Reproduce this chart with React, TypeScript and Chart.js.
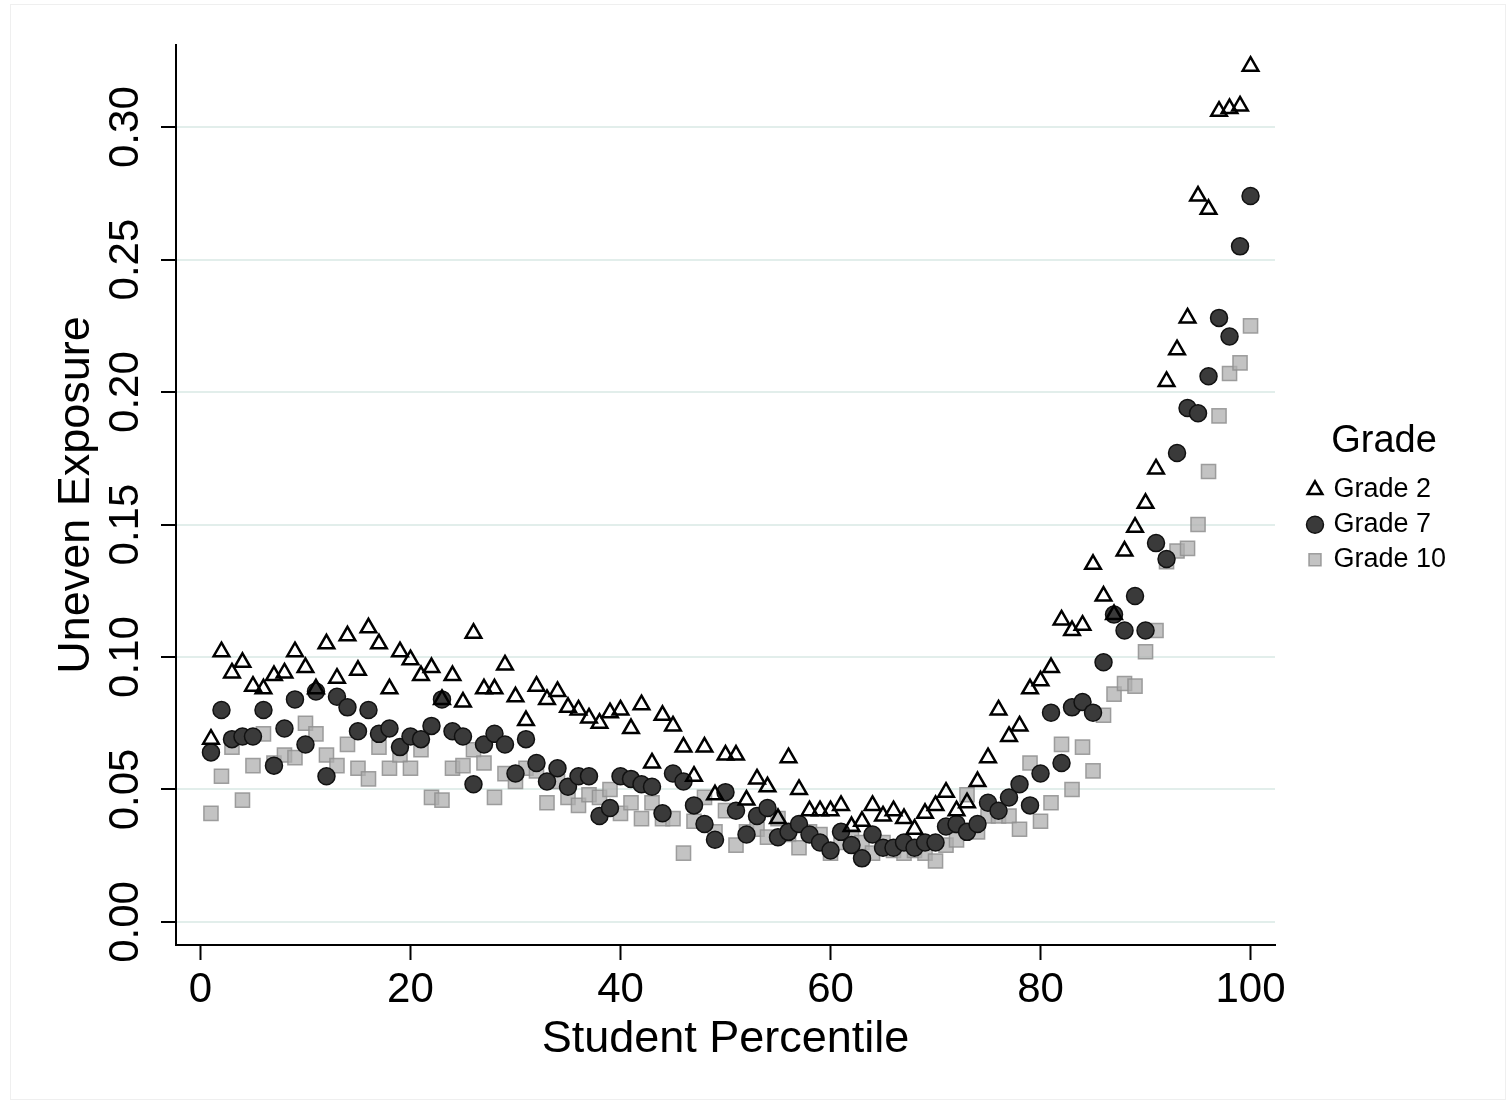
import { useEffect, useRef } from 'react';
import { Chart, registerables } from 'chart.js';

Chart.register(...registerables);

const PERCENTILES = [
  1, 2, 3, 4, 5, 6, 7, 8, 9, 10, 11, 12, 13, 14, 15, 16, 17, 18, 19, 20,
  21, 22, 23, 24, 25, 26, 27, 28, 29, 30, 31, 32, 33, 34, 35, 36, 37, 38, 39, 40,
  41, 42, 43, 44, 45, 46, 47, 48, 49, 50, 51, 52, 53, 54, 55, 56, 57, 58, 59, 60,
  61, 62, 63, 64, 65, 66, 67, 68, 69, 70, 71, 72, 73, 74, 75, 76, 77, 78, 79, 80,
  81, 82, 83, 84, 85, 86, 87, 88, 89, 90, 91, 92, 93, 94, 95, 96, 97, 98, 99, 100,
];

const GRADE2 = [
  0.069, 0.102, 0.094, 0.098, 0.089, 0.088, 0.093, 0.094, 0.102, 0.096,
  0.088, 0.105, 0.092, 0.108, 0.095, 0.111, 0.105, 0.088, 0.102, 0.099,
  0.093, 0.096, 0.084, 0.093, 0.083, 0.109, 0.088, 0.088, 0.097, 0.085,
  0.076, 0.089, 0.084, 0.087, 0.081, 0.080, 0.077, 0.075, 0.079, 0.080,
  0.073, 0.082, 0.060, 0.078, 0.074, 0.066, 0.055, 0.066, 0.048, 0.063,
  0.063, 0.046, 0.054, 0.051, 0.039, 0.062, 0.050, 0.042, 0.042, 0.042,
  0.044, 0.036, 0.038, 0.044, 0.040, 0.042, 0.039, 0.035, 0.041, 0.044,
  0.049, 0.042, 0.045, 0.053, 0.062, 0.080, 0.070, 0.074, 0.088, 0.091,
  0.096, 0.114, 0.110, 0.112, 0.135, 0.123, 0.116, 0.140, 0.149, 0.158,
  0.171, 0.204, 0.216, 0.228, 0.274, 0.269, 0.306, 0.307, 0.308, 0.323,
];

const GRADE7 = [
  0.064, 0.080, 0.069, 0.070, 0.070, 0.080, 0.059, 0.073, 0.084, 0.067,
  0.087, 0.055, 0.085, 0.081, 0.072, 0.080, 0.071, 0.073, 0.066, 0.070,
  0.069, 0.074, 0.084, 0.072, 0.070, 0.052, 0.067, 0.071, 0.067, 0.056,
  0.069, 0.060, 0.053, 0.058, 0.051, 0.055, 0.055, 0.040, 0.043, 0.055,
  0.054, 0.052, 0.051, 0.041, 0.056, 0.053, 0.044, 0.037, 0.031, 0.049,
  0.042, 0.033, 0.040, 0.043, 0.032, 0.034, 0.037, 0.033, 0.030, 0.027,
  0.034, 0.029, 0.024, 0.033, 0.028, 0.028, 0.030, 0.028, 0.030, 0.030,
  0.036, 0.037, 0.034, 0.037, 0.045, 0.042, 0.047, 0.052, 0.044, 0.056,
  0.079, 0.060, 0.081, 0.083, 0.079, 0.098, 0.116, 0.110, 0.123, 0.110,
  0.143, 0.137, 0.177, 0.194, 0.192, 0.206, 0.228, 0.221, 0.255, 0.274,
];

const GRADE10 = [
  0.041, 0.055, 0.066, 0.046, 0.059, 0.071, 0.060, 0.063, 0.062, 0.075,
  0.071, 0.063, 0.059, 0.067, 0.058, 0.054, 0.066, 0.058, 0.063, 0.058,
  0.065, 0.047, 0.046, 0.058, 0.059, 0.065, 0.060, 0.047, 0.056, 0.053,
  0.058, 0.057, 0.045, 0.053, 0.047, 0.044, 0.048, 0.047, 0.050, 0.041,
  0.045, 0.039, 0.045, 0.039, 0.039, 0.026, 0.038, 0.047, 0.034, 0.042,
  0.029, 0.034, 0.035, 0.032, 0.039, 0.033, 0.028, 0.034, 0.033, 0.026,
  0.030, 0.032, 0.030, 0.026, 0.030, 0.027, 0.026, 0.027, 0.026, 0.023,
  0.029, 0.031, 0.048, 0.034, 0.040, 0.040, 0.040, 0.035, 0.060, 0.038,
  0.045, 0.067, 0.050, 0.066, 0.057, 0.078, 0.086, 0.090, 0.089, 0.102,
  0.110, 0.136, 0.140, 0.141, 0.150, 0.170, 0.191, 0.207, 0.211, 0.225,
];

const SERIES_LABELS = ['Grade 2', 'Grade 7', 'Grade 10'];
const LEGEND_TITLE = 'Grade';
const X_TICKS = [0, 20, 40, 60, 80, 100];
const Y_TICKS = [0, 0.05, 0.1, 0.15, 0.2, 0.25, 0.3];
const X_TITLE = 'Student Percentile';
const Y_TITLE = 'Uneven Exposure';

const FONT = "'Liberation Sans', Arial, Helvetica, sans-serif";

const legendPlacement = {
  id: 'legendPlacement',
  afterLayout(chart: any) {
    const lg = chart.legend;
    if (!lg) return;
    const w = lg.width + 24;
    const h = lg.height;
    lg.width = w;
    lg.left = 1302;
    lg.right = lg.left + w;
    lg.top = 502 - h / 2;
    lg.bottom = lg.top + h;
  },
};

export default function App() {
  const ref = useRef<HTMLCanvasElement>(null);

  useEffect(() => {
    const canvas = ref.current;
    if (!canvas) return;
    const mk = (ys: number[]) => PERCENTILES.map((x, i) => ({ x, y: ys[i] }));
    const chart = new Chart(canvas, {
      type: 'scatter',
      data: {
        datasets: [
          {
            label: SERIES_LABELS[0],
            data: mk(GRADE2),
            pointStyle: 'triangle',
            pointRadius: 9,
            pointHoverRadius: 9,
            backgroundColor: 'rgba(255,255,255,0)',
            borderColor: '#000000',
            borderWidth: 2.5,
          },
          {
            label: SERIES_LABELS[1],
            data: mk(GRADE7),
            pointStyle: 'circle',
            pointRadius: 8.5,
            pointHoverRadius: 8.5,
            backgroundColor: '#3a3a3a',
            borderColor: '#111111',
            borderWidth: 1.5,
          },
          {
            label: SERIES_LABELS[2],
            data: mk(GRADE10),
            pointStyle: 'rect',
            pointRadius: 10,
            pointHoverRadius: 10,
            backgroundColor: 'rgba(175,175,175,0.75)',
            borderColor: 'rgba(145,145,145,0.85)',
            borderWidth: 1.5,
          },
        ],
      },
      options: {
        responsive: false,
        animation: false,
        layout: { padding: { left: 0, right: 96, top: 45, bottom: 0 } },
        plugins: {
          tooltip: { enabled: false },
          legend: {
            display: true,
            position: 'right',
            align: 'center',
            maxWidth: 140,
            title: {
              display: true,
              text: LEGEND_TITLE,
              color: '#000',
              position: 'center',
              padding: 0,
              font: { family: FONT, size: 38, lineHeight: 1.2 },
            },
            labels: {
              usePointStyle: true,
              boxWidth: 10,
              boxHeight: 12,
              padding: 8,
              color: '#000',
              font: { family: FONT, size: 27 },
            },
          },
        },
        scales: {
          x: {
            type: 'linear',
            min: -2.33,
            max: 102.33,
            afterBuildTicks: (scale: any) => {
              scale.ticks = X_TICKS.map((v) => ({ value: v }));
            },
            afterFit: (scale: any) => {
              scale.height = 160;
            },
            border: { display: true, color: '#000', width: 2 },
            grid: {
              display: true,
              drawOnChartArea: false,
              drawTicks: true,
              tickLength: 15,
              tickColor: '#000',
              tickWidth: 2,
            },
            ticks: {
              color: '#000',
              padding: 5,
              maxRotation: 0,
              minRotation: 0,
              font: { family: FONT, size: 42 },
              callback: (v: any) => String(v),
            },
            title: {
              display: true,
              text: X_TITLE,
              color: '#000',
              font: { family: FONT, size: 45, lineHeight: 1 },
              padding: { top: 0, bottom: 42.5 },
            },
          },
          y: {
            type: 'linear',
            min: -0.0087,
            max: 0.331,
            afterBuildTicks: (scale: any) => {
              scale.ticks = Y_TICKS.map((v) => ({ value: v }));
            },
            afterFit: (scale: any) => {
              scale.width = 176;
            },
            border: { display: true, color: '#000', width: 2 },
            grid: {
              display: true,
              drawOnChartArea: true,
              drawTicks: true,
              color: '#e2eeeb',
              lineWidth: 2,
              tickLength: 15,
              tickColor: '#000',
              tickWidth: 2,
            },
            ticks: {
              color: '#000',
              padding: -6,
              minRotation: 90,
              maxRotation: 90,
              crossAlign: 'center',
              font: { family: FONT, size: 42 },
              callback: (v: any) => Number(v).toFixed(2),
            },
            title: {
              display: true,
              text: Y_TITLE,
              color: '#000',
              font: { family: FONT, size: 45, lineHeight: 1 },
              padding: { top: 54.5, bottom: 0 },
            },
          },
        },
      },
      plugins: [legendPlacement],
    } as any);
    return () => chart.destroy();
  }, []);

  return (
    <div style={{ position: 'absolute', left: 0, top: 0, width: 1511, height: 1105, background: '#fff' }}>
      <div
        style={{
          position: 'absolute',
          left: 10,
          top: 4,
          width: 1496,
          height: 1096,
          border: '1px solid #efefef',
          boxSizing: 'border-box',
        }}
      />
      <canvas ref={ref} width={1511} height={1105} style={{ position: 'absolute', left: 0, top: 0 }} />
    </div>
  );
}
